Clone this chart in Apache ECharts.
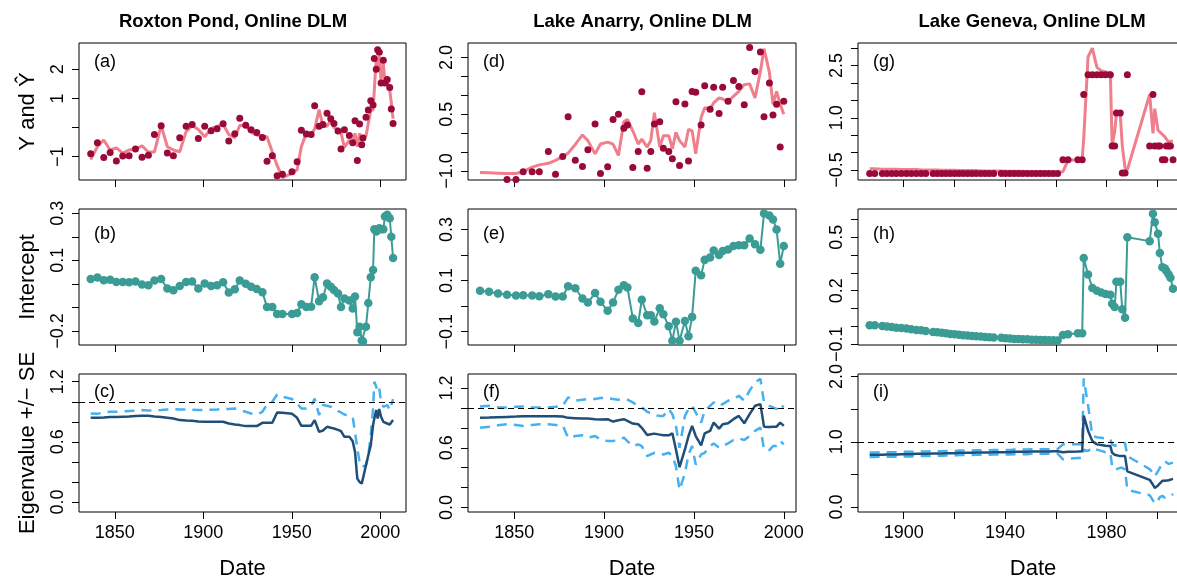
<!DOCTYPE html>
<html><head><meta charset="utf-8">
<script src="https://cdn.jsdelivr.net/npm/echarts@6/dist/echarts.min.js"></script>
<style>html,body{margin:0;padding:0;background:#fff;overflow:hidden}#c{width:1177px;height:577px}</style>
</head><body><div id="c"></div>
<script>
const titles = ['Roxton Pond, Online DLM', 'Lake Anarry, Online DLM', 'Lake Geneva, Online DLM'];
const panelLetters = ['(a)','(b)','(c)','(d)','(e)','(f)','(g)','(h)','(i)'];
const rowNames = ['Y and \u0176', 'Intercept', 'Eigenvalue +/\u2212 SE'];
const xAxisName = 'Date';

// ---------- Roxton Pond ----------
const yearsA = [1836.4,1840.2,1843.8,1847.4,1850.9,1854.5,1858.1,1861.7,1865.4,1869.0,1872.4,1876.2,1879.7,1883.1,1886.7,1890.3,1893.7,1897.2,1900.8,1904.4,1907.8,1911.2,1914.4,1917.8,1920.6,1924.0,1927.0,1930.2,1933.4,1936.0,1939.0,1941.7,1944.7,1950.1,1953.0,1955.4,1958.2,1960.9,1962.9,1965.4,1967.6,1969.9,1972.0,1973.8,1976.1,1977.8,1979.7,1982.5,1984.4,1985.7,1987.0,1988.3,1989.5,1990.2,1991.9,1993.2,1994.6,1995.9,1996.6,1997.7,1998.5,1999.4,2000.4,2001.7,2002.6,2003.9,2005.3,2006.2,2007.2];
const obsA = [-0.90,-0.52,-1.03,-0.86,-1.15,-0.98,-0.97,-0.74,-1.02,-0.95,-0.24,0.06,-0.87,-0.97,-0.35,0.04,0.10,-0.38,0.04,-0.11,-0.04,0.13,-0.46,-0.21,0.32,0.08,-0.08,-0.17,-0.34,-1.16,-0.97,-1.65,-1.60,-1.52,-1.17,-0.09,-0.22,-0.24,0.75,0.04,0.10,0.49,0.30,0.14,-0.12,-0.74,-0.08,-0.27,-0.52,0.23,-1.13,0.12,-0.59,-0.36,0.35,0.60,0.92,0.77,2.37,2.00,2.67,2.58,1.53,2.31,1.53,1.65,1.37,0.64,0.14];
const fitA = [-1.10,-0.65,-0.43,-0.77,-0.70,-0.88,-0.77,-0.74,-0.63,-0.84,-0.84,0.07,-0.66,-0.77,-0.83,-0.14,0.07,-0.07,-0.32,-0.04,0.04,0.11,-0.24,-0.35,0.07,0.07,-0.16,-0.26,-0.30,-0.32,-0.84,-1.30,-1.72,-1.57,-1.45,-0.65,-0.20,-0.26,-0.05,0.62,0.03,0.05,0.25,0.00,-0.06,-0.18,-0.68,-0.43,-0.55,-0.20,-0.66,-0.20,-0.43,-0.30,-0.30,0.15,0.60,0.60,0.55,2.37,2.05,2.45,1.60,2.20,1.55,1.60,1.28,0.85,0.30];
const intA = [0.021,0.027,0.015,0.017,0.008,0.008,0.007,0.010,-0.003,-0.006,0.014,0.020,-0.020,-0.027,-0.009,0.008,0.010,-0.020,0.001,-0.009,-0.006,0.007,-0.037,-0.023,0.014,0.000,-0.012,-0.022,-0.036,-0.099,-0.098,-0.128,-0.128,-0.128,-0.124,-0.087,-0.099,-0.097,0.028,-0.074,-0.057,0.001,-0.012,-0.026,-0.041,-0.099,-0.062,-0.071,-0.105,-0.054,-0.206,-0.182,-0.241,-0.245,-0.182,-0.082,0.028,0.059,0.232,0.222,0.229,0.236,0.232,0.232,0.286,0.294,0.279,0.200,0.110];
const eigA = [0.84,0.84,0.843,0.847,0.847,0.85,0.853,0.857,0.86,0.86,0.853,0.847,0.84,0.833,0.817,0.813,0.81,0.803,0.80,0.80,0.80,0.80,0.783,0.773,0.767,0.757,0.757,0.757,0.79,0.79,0.79,0.893,0.89,0.88,0.84,0.76,0.76,0.76,0.817,0.70,0.713,0.75,0.74,0.733,0.72,0.707,0.65,0.65,0.607,0.50,0.233,0.20,0.183,0.173,0.367,0.467,0.567,0.767,0.833,0.917,0.833,0.927,0.85,0.80,0.783,0.783,0.773,0.783,0.817];
const eigUpA = [0.883,0.88,0.893,0.90,0.90,0.903,0.907,0.91,0.917,0.913,0.913,0.917,0.923,0.927,0.923,0.923,0.92,0.917,0.917,0.92,0.923,0.927,0.927,0.933,0.917,0.90,0.883,0.873,0.90,0.973,1.0,1.073,1.05,1.027,0.983,0.933,0.933,0.95,1.033,0.867,0.967,0.96,0.95,0.933,0.907,0.893,0.873,0.86,0.847,0.70,0.533,0.40,0.35,0.34,0.367,0.467,0.667,0.933,1.2,1.15,1.1,1.133,1.0,0.95,0.933,0.967,0.917,0.967,1.027];

// ---------- Lake Anarry ----------
const yearsB = [1831,1836,1841,1846,1851,1855,1860,1864,1869,1873,1877,1880,1884,1888,1891,1895,1898,1902,1905,1908,1911,1913,1916,1919,1921,1924,1926,1928,1931,1933,1936,1938,1940,1942,1945,1947,1949,1951,1954,1956,1959,1961,1964,1966,1969,1972,1975,1978,1981,1984,1987,1989,1992,1994,1996,1998,2000];
const obsB = [-1.45,-1.45,-1.45,-1.23,-1.23,-1.02,-1.02,-1.02,-0.49,-1.09,-0.62,0.43,-0.72,-0.88,-0.44,0.24,-1.07,-0.89,0.36,0.50,0.13,0.21,-0.91,-0.49,1.09,-0.93,-0.49,0.24,0.30,-0.40,-0.49,-0.68,0.83,-0.86,0.77,-0.74,1.10,1.08,0.21,1.25,0.63,1.21,0.52,1.21,0.84,1.39,1.23,0.75,2.26,1.63,2.14,0.43,1.32,0.48,0.76,-0.37,0.84];
const fitB = [-1.04,-1.05,-1.06,-1.07,-1.07,-1.02,-0.90,-0.84,-0.80,-0.72,-0.62,-0.53,-0.30,-0.05,-0.20,-0.55,-0.29,-0.24,-0.29,-0.59,0.30,0.36,0.06,-0.29,-0.16,-0.37,-0.20,0.54,-0.37,-0.07,-0.07,-0.42,0.02,-0.20,-0.37,0.10,0.06,-0.55,0.41,0.67,0.63,0.80,0.93,0.90,0.84,0.97,1.10,1.28,1.30,0.93,1.63,2.23,1.60,0.76,1.10,0.76,0.50];
const intB = [0.060,0.056,0.049,0.045,0.042,0.043,0.042,0.039,0.047,0.038,0.038,0.078,0.070,0.030,0.014,0.051,0.017,-0.018,0.014,0.064,0.082,0.073,-0.048,-0.066,0.025,-0.036,-0.036,-0.060,-0.008,-0.032,-0.079,-0.135,-0.061,-0.135,-0.058,-0.118,-0.042,0.138,0.121,0.181,0.190,0.218,0.200,0.216,0.222,0.235,0.238,0.238,0.265,0.242,0.221,0.362,0.355,0.339,0.300,0.166,0.235];
const eigB = [0.90,0.903,0.907,0.91,0.913,0.917,0.917,0.917,0.917,0.917,0.913,0.90,0.897,0.893,0.893,0.887,0.883,0.887,0.863,0.876,0.887,0.87,0.843,0.836,0.80,0.728,0.735,0.742,0.732,0.725,0.725,0.745,0.583,0.405,0.583,0.718,0.819,0.718,0.624,0.745,0.769,0.853,0.792,0.836,0.846,0.887,0.92,0.846,0.937,1.021,1.038,0.812,0.809,0.812,0.812,0.853,0.819];
const eigUpB = [1.015,1.021,1.005,1.005,1.011,1.015,1.005,1.005,1.005,1.011,1.021,1.106,1.072,1.082,1.089,1.089,1.099,1.099,1.089,1.082,1.089,1.082,1.055,1.021,1.005,0.961,0.948,0.927,0.92,0.92,0.988,0.937,0.819,0.60,0.92,0.988,1.021,0.954,0.853,0.971,1.021,1.055,1.021,1.038,1.072,1.089,1.122,1.072,1.173,1.257,1.291,1.055,1.021,1.005,0.988,1.038,1.005];
const eigLoB = [0.802,0.812,0.826,0.836,0.829,0.819,0.829,0.836,0.836,0.829,0.826,0.701,0.718,0.725,0.701,0.718,0.684,0.667,0.667,0.684,0.701,0.667,0.617,0.634,0.617,0.516,0.533,0.55,0.543,0.533,0.55,0.516,0.415,0.179,0.347,0.533,0.617,0.432,0.533,0.55,0.617,0.644,0.60,0.617,0.644,0.678,0.694,0.678,0.718,0.769,0.802,0.583,0.577,0.617,0.617,0.667,0.634];

// ---------- Lake Geneva ----------
const yearsC = [1886.6,1888.6,1891.6,1893.4,1895.3,1897.1,1899.1,1901.1,1903.0,1905.0,1906.9,1908.7,1911.6,1913.3,1915.0,1916.7,1918.4,1920.1,1921.8,1923.5,1925.2,1926.9,1928.6,1930.4,1932.1,1933.8,1935.5,1938.5,1940.2,1941.9,1943.6,1945.3,1947.0,1948.8,1950.5,1952.2,1953.9,1955.6,1957.3,1959.0,1960.7,1962.8,1964.8,1968.7,1970.4,1971.0,1972.7,1974.4,1976.2,1977.9,1979.6,1981.5,1982.2,1983.2,1983.9,1985.4,1986.2,1987.3,1988.2,1997.0,1998.3,1999.0,2000.3,2001.0,2002.0,2003.0,2003.6,2004.5,2005.2,2006.2];
const obsC = [-0.60,-0.60,-0.60,-0.60,-0.60,-0.60,-0.60,-0.60,-0.60,-0.60,-0.60,-0.60,-0.60,-0.60,-0.60,-0.60,-0.60,-0.60,-0.60,-0.60,-0.60,-0.60,-0.60,-0.60,-0.60,-0.60,-0.60,-0.60,-0.60,-0.60,-0.60,-0.60,-0.60,-0.60,-0.60,-0.60,-0.60,-0.60,-0.60,-0.60,-0.60,-0.21,-0.21,-0.21,-0.21,1.67,2.24,2.24,2.24,2.24,2.24,2.24,0.19,0.19,1.14,1.14,-0.59,-0.59,2.24,0.19,1.67,0.19,0.19,0.19,-0.21,-0.21,0.19,0.19,0.19,-0.21];
const fitC = [-0.47,-0.47,-0.48,-0.48,-0.48,-0.48,-0.49,-0.49,-0.49,-0.49,-0.50,-0.50,-0.50,-0.50,-0.51,-0.51,-0.51,-0.51,-0.52,-0.52,-0.52,-0.52,-0.52,-0.53,-0.53,-0.53,-0.53,-0.53,-0.54,-0.54,-0.54,-0.54,-0.54,-0.55,-0.55,-0.55,-0.55,-0.55,-0.56,-0.56,-0.57,-0.55,-0.22,-0.21,-0.20,0.40,2.75,3.00,2.45,2.35,2.32,2.30,0.20,0.60,1.12,1.10,0.20,-0.45,-0.50,1.67,0.55,1.26,0.64,0.60,0.52,0.45,0.38,0.31,0.36,0.33];
const intC = [0.006,0.006,0.003,-0.001,-0.003,-0.007,-0.009,-0.012,-0.016,-0.020,-0.022,-0.025,-0.031,-0.033,-0.035,-0.038,-0.042,-0.044,-0.047,-0.049,-0.051,-0.053,-0.055,-0.057,-0.059,-0.060,-0.062,-0.064,-0.066,-0.068,-0.070,-0.070,-0.072,-0.072,-0.074,-0.074,-0.076,-0.076,-0.078,-0.078,-0.079,-0.048,-0.044,-0.038,-0.038,0.384,0.291,0.215,0.200,0.190,0.182,0.178,0.127,0.109,0.250,0.250,0.096,0.049,0.500,0.478,0.632,0.584,0.519,0.412,0.332,0.325,0.310,0.291,0.273,0.211];
const eigC = [0.80,0.80,0.80,0.805,0.805,0.805,0.81,0.81,0.81,0.815,0.815,0.815,0.82,0.82,0.82,0.825,0.825,0.825,0.83,0.83,0.83,0.83,0.835,0.835,0.835,0.835,0.84,0.84,0.84,0.84,0.845,0.845,0.845,0.845,0.85,0.85,0.85,0.85,0.85,0.855,0.855,0.84,0.845,0.85,0.855,1.40,1.17,1.01,0.96,0.95,0.94,0.935,0.83,0.80,0.79,0.78,0.78,0.78,0.545,0.416,0.34,0.29,0.33,0.36,0.40,0.40,0.405,0.41,0.42,0.43];
const eigUpC = [0.835,0.835,0.84,0.84,0.84,0.84,0.845,0.845,0.845,0.85,0.85,0.85,0.855,0.855,0.855,0.86,0.86,0.86,0.865,0.865,0.865,0.865,0.87,0.87,0.87,0.87,0.875,0.875,0.875,0.875,0.88,0.88,0.88,0.88,0.885,0.885,0.885,0.885,0.885,0.89,0.89,0.96,0.96,0.96,0.96,1.97,1.56,1.09,1.07,1.06,1.05,1.04,0.96,0.94,0.96,0.96,0.97,0.98,0.78,0.58,0.52,0.47,0.55,0.60,0.65,0.70,0.68,0.66,0.67,0.68];
const eigLoC = [0.765,0.765,0.77,0.77,0.77,0.77,0.775,0.775,0.775,0.78,0.78,0.78,0.785,0.785,0.785,0.79,0.79,0.79,0.795,0.795,0.795,0.795,0.80,0.80,0.80,0.80,0.805,0.805,0.805,0.805,0.81,0.81,0.81,0.81,0.815,0.815,0.815,0.815,0.815,0.82,0.82,0.73,0.74,0.75,0.75,0.88,0.86,0.91,0.88,0.86,0.84,0.83,0.62,0.57,0.57,0.60,0.60,0.57,0.26,0.18,0.10,0.05,0.10,0.15,0.17,0.14,0.12,0.15,0.17,0.20];

// ---------- tick values / labels ----------
const xTicksAB = [1850, 1900, 1950, 2000];
const xLabelsAB = [1850, 1900, 1950, 2000];
const xTicksC = [1900, 1920, 1940, 1960, 1980, 2000];
const xLabelsC = [1900, 1940, 1980];
const yTicksA = [-1, 0, 1, 2];          const yLabelsA = [-1, 1, 2];
const yTicksB = [-0.2, -0.1, 0, 0.1, 0.2, 0.3]; const yLabelsB = [-0.2, 0.1, 0.3];
const yTicksC = [0, 0.2, 0.4, 0.6, 0.8, 1.0, 1.2]; const yLabelsC = [0, 0.6, 1.2];
const yTicksD = [-1, -0.5, 0, 0.5, 1, 1.5, 2]; const yLabelsD = [-1, 0.5, 2];
const yTicksE = [-0.1, 0, 0.1, 0.2, 0.3];   const yLabelsE = [-0.1, 0.1, 0.3];
const yTicksF = [0, 0.2, 0.4, 0.6, 0.8, 1.0, 1.2]; const yLabelsF = [0, 0.6, 1.2];
const yTicksG = [-0.5, 0, 0.5, 1, 1.5, 2, 2.5, 3]; const yLabelsG = [-0.5, 1, 2.5];
const yTicksH = [-0.1, 0, 0.1, 0.2, 0.3, 0.4, 0.5, 0.6]; const yLabelsH = [-0.1, 0.2, 0.5];
const yTicksI = [0, 0.5, 1, 1.5, 2];        const yLabelsI = [0, 1, 2];

// ---------- layout ----------
const font = "'Liberation Sans', Arial, Helvetica, sans-serif";
const colLeft = [79, 468, 858], colWidth = [327, 328, 350];
const rowTop = [43, 209, 374], rowHeight = [137, 136, 138];
const xRange = [[1829.8, 2014.5], [1824.3, 2006.8], [1882.0, 2020.0]];
const yRange = [[-1.8, 2.9], [-0.26, 0.318], [-0.1, 1.277],
                [-1.24, 2.38], [-0.152, 0.38], [-0.044, 1.34],
                [-0.79, 3.15], [-0.104, 0.658], [-0.078, 2.04]];
const yTickSets = [yTicksA, yTicksB, yTicksC, yTicksD, yTicksE, yTicksF, yTicksG, yTicksH, yTicksI];
const yLabelSets = [yLabelsA, yLabelsB, yLabelsC, yLabelsD, yLabelsE, yLabelsF, yLabelsG, yLabelsH, yLabelsI];
const yDecimals = [0, 1, 1, 1, 1, 1, 1, 1, 1];

const lakes = [
  {years: yearsA, obs: obsA, fit: fitA, inter: intA, eig: eigA, up: eigUpA, lo: null},
  {years: yearsB, obs: obsB, fit: fitB, inter: intB, eig: eigB, up: eigUpB, lo: eigLoB},
  {years: yearsC, obs: obsC, fit: fitC, inter: intC, eig: eigC, up: eigUpC, lo: eigLoC}
];

const COL_OBS = '#990a3a', COL_FIT = '#f07f8b', COL_INT = '#3a9c95', COL_EIG = '#1f4e78', COL_SE = '#45b1f0';

function zip(xs, ys) { return xs.map((x, i) => [x, ys[i]]); }
function fmt(dec) { return v => (dec ? Number(v).toFixed(dec) : String(Math.round(v))).replace('-', '\u2212'); }

const grids = [], xAxes = [], yAxes = [], series = [], graphics = [];
for (let c = 0; c < 3; c++) {
  for (let r = 0; r < 3; r++) {
    const idx = c * 3 + r;
    grids.push({left: colLeft[c], top: rowTop[r], width: colWidth[c], height: rowHeight[r],
      outerBoundsMode: 'none', containLabel: false,
      show: true, borderColor: '#000', borderWidth: 1, backgroundColor: 'transparent'});
    const xt = c === 2 ? xTicksC : xTicksAB;
    const xl = c === 2 ? xLabelsC : xLabelsAB;
    xAxes.push({gridIndex: idx, type: 'value', min: xRange[c][0], max: xRange[c][1],
      axisLine: {show: false, onZero: false}, splitLine: {show: false},
      axisTick: {show: true, length: 7, customValues: xt, lineStyle: {color: '#000', width: 1}},
      axisLabel: {show: r === 2, customValues: xl, fontSize: 18, color: '#000', fontFamily: font, margin: 12,
        formatter: v => String(Math.round(v))},
      name: r === 2 ? xAxisName : '', nameLocation: 'middle', nameGap: 46,
      nameTextStyle: {fontSize: 22, color: '#000', fontFamily: font}});
    yAxes.push({gridIndex: idx, type: 'value', min: yRange[idx][0], max: yRange[idx][1],
      axisLine: {show: false, onZero: false}, splitLine: {show: false},
      axisTick: {show: true, length: 7, customValues: yTickSets[idx], lineStyle: {color: '#000', width: 1}},
      axisLabel: {customValues: yLabelSets[idx], rotate: 90, fontSize: 18, color: '#000', fontFamily: font,
        margin: 12, formatter: fmt(yDecimals[idx])},
      name: c === 0 ? rowNames[r] : '', nameLocation: 'middle', nameGap: 40, nameRotate: 90,
      nameTextStyle: {fontSize: 22, color: '#000', fontFamily: font}});

    const L = lakes[c];
    if (r === 0) {
      series.push({type: 'line', xAxisIndex: idx, yAxisIndex: idx, data: zip(L.years, L.fit),
        showSymbol: false, symbol: 'none', lineStyle: {color: COL_FIT, width: 3}, z: 2, animation: false});
      series.push({type: 'scatter', xAxisIndex: idx, yAxisIndex: idx, data: zip(L.years, L.obs),
        symbol: 'circle', symbolSize: 7, itemStyle: {color: COL_OBS, opacity: 1}, z: 3, animation: false});
    } else if (r === 1) {
      series.push({type: 'line', xAxisIndex: idx, yAxisIndex: idx, data: zip(L.years, L.inter),
        symbol: 'circle', symbolSize: 8.5, showSymbol: true, itemStyle: {color: COL_INT, borderWidth: 0},
        lineStyle: {color: COL_INT, width: 2}, z: 2, animation: false});
    } else {
      series.push({type: 'line', xAxisIndex: idx, yAxisIndex: idx, data: zip(L.years, L.up),
        showSymbol: false, symbol: 'none', lineStyle: {color: COL_SE, width: 2.5, type: [10, 7]}, z: 2, animation: false});
      if (L.lo) series.push({type: 'line', xAxisIndex: idx, yAxisIndex: idx, data: zip(L.years, L.lo),
        showSymbol: false, symbol: 'none', lineStyle: {color: COL_SE, width: 2.5, type: [10, 7]}, z: 2, animation: false});
      series.push({type: 'line', xAxisIndex: idx, yAxisIndex: idx, data: zip(L.years, L.eig),
        showSymbol: false, symbol: 'none', lineStyle: {color: COL_EIG, width: 2.5}, z: 3, animation: false,
        markLine: {silent: true, symbol: ['none', 'none'], label: {show: false}, animation: false,
          lineStyle: {color: '#000', width: 1, type: [6, 4]}, data: [{yAxis: 1}]}});
    }
    graphics.push({type: 'text', x: colLeft[c] + 15, y: [62, 234.5, 392.5][r],
      style: {text: panelLetters[idx], fontSize: 18, fontFamily: font, fill: '#000', align: 'left', verticalAlign: 'middle'}});
  }
}
const titleX = [233, 642.5, 1032];
titles.forEach((t, i) => graphics.push({type: 'text', x: titleX[i], y: 22,
  style: {text: t, fontSize: 18.5, fontWeight: 'bold', fontFamily: font, fill: '#000', align: 'center', verticalAlign: 'middle'}}));

const chart = echarts.init(document.getElementById('c'), null, {renderer: 'canvas'});
chart.setOption({backgroundColor: '#fff', animation: false, grid: grids, xAxis: xAxes, yAxis: yAxes,
  series: series, graphic: graphics});
</script></body></html>
